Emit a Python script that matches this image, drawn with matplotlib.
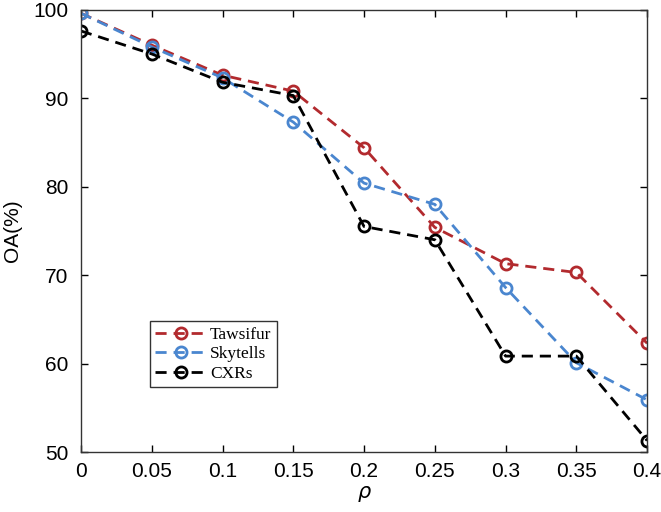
import numpy as np
import matplotlib.pyplot as plt

# noise ratio rho on the x axis
rho = [0, 0.05, 0.1, 0.15, 0.2, 0.25, 0.3, 0.35, 0.4]
# overall accuracy (%) per dataset
oa_tawsifur = [99.6, 96.0, 92.6, 90.8, 84.4, 75.4, 71.3, 70.3, 62.3]
oa_skytells = [99.6, 95.8, 92.3, 87.3, 80.4, 78.0, 68.6, 60.1, 55.9]
oa_cxrs = [97.6, 95.0, 91.8, 90.3, 75.5, 74.0, 60.85, 60.85, 51.3]

xticks = [0, 0.05, 0.1, 0.15, 0.2, 0.25, 0.3, 0.35, 0.4]
xticklabels = ['0', '0.05', '0.1', '0.15', '0.2', '0.25', '0.3', '0.35', '0.4']
yticks = [50, 60, 70, 80, 90, 100]

plt.rcParams['font.family'] = ['Liberation Sans', 'DejaVu Sans']

fig = plt.figure(figsize=(6.61, 5.12), dpi=100)
ax = fig.add_axes([0.1225, 0.117, 0.8565, 0.864])

series = [
    (oa_tawsifur, '#b22a2e', 'Tawsifur'),
    (oa_skytells, '#4a86cf', 'Skytells'),
    (oa_cxrs, 'black', 'CXRs'),
]
for vals, col, name in series:
    ax.plot(rho, vals, linestyle=(0, (4, 2.5)), color=col, linewidth=2,
            marker='o', markersize=8, markerfacecolor='none',
            markeredgewidth=2, markeredgecolor=col, label=name)

ax.set_xlim(0, 0.4)
ax.set_ylim(50, 100)
ax.set_xticks(xticks)
ax.set_xticklabels(xticklabels)
ax.set_yticks(yticks)
ax.tick_params(direction='in', top=True, right=True, length=5, width=1,
               labelsize=15)
ax.tick_params(axis='x', pad=7)
ax.tick_params(axis='y', pad=9)
for sp in ax.spines.values():
    sp.set_linewidth(1)
    sp.set_color('#333333')

ax.set_xlabel(r'$\rho$', fontsize=15, labelpad=2)
ax.set_ylabel('OA(%)', fontsize=15, labelpad=8)

leg = ax.legend(loc='lower left', bbox_to_anchor=(0.122, 0.147),
                prop={'family': 'Liberation Serif', 'size': 12.5},
                frameon=True, fancybox=False, edgecolor='black',
                borderpad=0.3, labelspacing=0.2, handlelength=3.0,
                handletextpad=0.15, borderaxespad=0)
leg.get_frame().set_linewidth(1)

plt.savefig('out.png', dpi=100)
